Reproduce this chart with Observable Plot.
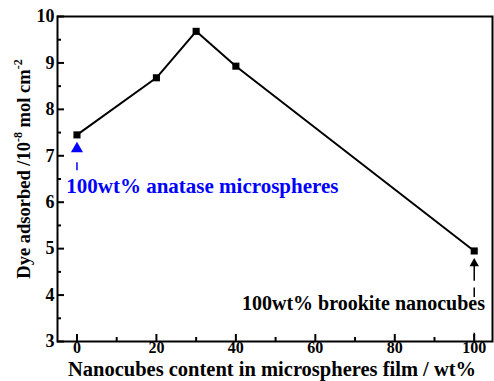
<!DOCTYPE html>
<html>
<head>
<meta charset="utf-8">
<script src="https://cdn.jsdelivr.net/npm/d3@7"></script>
<script src="https://cdn.jsdelivr.net/npm/@observablehq/plot@0.6"></script>
<style>
  html, body { margin: 0; padding: 0; background: #fff; }
  svg, svg text { font-family: "Liberation Serif", "Times New Roman", serif !important; }
</style>
</head>
<body>
<div id="chart"></div>
<script>
// Data
const content = [0, 20, 30, 40, 100];           // wt% nanocubes
const dye = [7.45, 8.68, 9.68, 8.93, 4.95];       // 10^-8 mol cm^-2
const xTicks = [0, 20, 40, 60, 80, 100];
const xMinor = [10, 30, 50, 70, 90];
const yTicks = [3, 4, 5, 6, 7, 8, 9, 10];
const yMinor = [3.5, 4.5, 5.5, 6.5, 7.5, 8.5, 9.5];
const xLabel = "Nanocubes content in microspheres film / wt%";
const annoBlue = "100wt% anatase microspheres";
const annoBlack = "100wt% brookite nanocubes";

const pts = content.map((x, i) => ({x, y: dye[i]}));

const chart = Plot.plot({
  width: 494,
  height: 381,
  marginLeft: 57,
  marginRight: 2,
  marginTop: 16,
  marginBottom: 40,
  style: {background: "#fff"},
  x: {domain: [-4.9, 104.6], label: null},
  y: {domain: [3, 10], label: null},
  marks: [
    Plot.frame({stroke: "#000", strokeWidth: 2}),
    // tick labels
    Plot.axisX({ticks: xTicks, tickSize: 0, tickPadding: 0, fontSize: 16, fontWeight: "bold", fill: "#000", tickFormat: d => d}),
    Plot.axisY({ticks: yTicks, tickSize: 0, tickPadding: 3, fontSize: 18, fontWeight: "bold", fill: "#000", tickFormat: d => d}),
    // inward ticks
    Plot.axisX({ticks: xTicks, tickSize: -7, text: null, strokeWidth: 2, stroke: "#000"}),
    Plot.axisX({ticks: xMinor, tickSize: -4, text: null, strokeWidth: 2, stroke: "#000"}),
    Plot.axisY({ticks: yTicks, tickSize: -7, text: null, strokeWidth: 2, stroke: "#000"}),
    Plot.axisY({ticks: yMinor, tickSize: -4, text: null, strokeWidth: 2, stroke: "#000"}),
    // data
    Plot.line(pts, {x: "x", y: "y", stroke: "#000", strokeWidth: 2}),
    Plot.dot(pts, {x: "x", y: "y", symbol: "square", r: 4, fill: "#000", stroke: "none"}),
    // blue annotation
    Plot.dot([{x: 0, y: 7.15}], {x: "x", y: "y", symbol: "triangle", r: 4.5, fill: "#0000ff", stroke: "none"}),
    Plot.ruleX([{x: 0, y1: 6.68, y2: 6.85}], {x: "x", y1: "y1", y2: "y2", stroke: "#0000ff", strokeWidth: 1.5}),
    Plot.text([{x: -2.7, y: 6.34}], {x: "x", y: "y", text: () => annoBlue, textAnchor: "start", fill: "#0000ff", fontSize: 21, fontWeight: "bold"}),
    // black annotation
    Plot.ruleX([{x: 100, y1: 4.3, y2: 4.7}], {x: "x", y1: "y1", y2: "y2", stroke: "#000", strokeWidth: 1.5}),
    Plot.dot([{x: 100, y: 4.68}], {x: "x", y: "y", symbol: "triangle", r: 3.5, fill: "#000", stroke: "none"}),
    Plot.ruleX([{x: 100, y1: 3.95, y2: 4.15}], {x: "x", y1: "y1", y2: "y2", stroke: "#000", strokeWidth: 1.5}),
    Plot.ruleX([{x: 100, y1: 3.02, y2: 3.18}], {x: "x", y1: "y1", y2: "y2", stroke: "#000", strokeWidth: 1.5}),
    Plot.text([{x: 102.7, y: 3.82}], {x: "x", y: "y", text: () => annoBlack, textAnchor: "end", fill: "#000", fontSize: 20, fontWeight: "bold"})
  ]
});

document.getElementById("chart").appendChild(chart);

// Axis titles (with superscripts on the y title)
const svg = d3.select(chart);
svg.append("text")
  .attr("x", 272).attr("y", 376)
  .attr("text-anchor", "middle")
  .attr("font-size", 20.5).attr("font-weight", "bold")
  .attr("fill", "#000")
  .text(xLabel);

const yt = svg.append("text")
  .attr("transform", "translate(30,169) rotate(-90)")
  .attr("text-anchor", "middle")
  .attr("font-size", 18.5).attr("font-weight", "bold")
  .attr("fill", "#000");
yt.append("tspan").text("Dye adsorbed /10");
yt.append("tspan").attr("dy", -8).attr("font-size", 12).text("-8");
yt.append("tspan").attr("dy", 8).text(" mol cm");
yt.append("tspan").attr("dy", -8).attr("font-size", 12).text("-2");
</script>
</body>
</html>
